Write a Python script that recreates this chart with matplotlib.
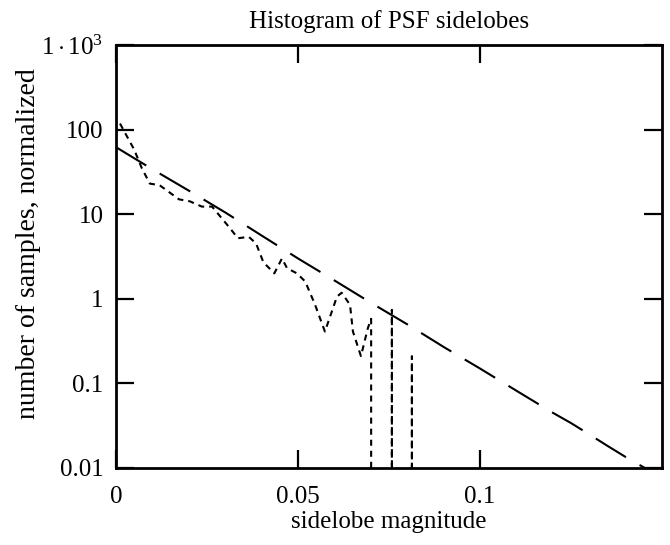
import matplotlib
matplotlib.use("Agg")
import matplotlib.pyplot as plt

plt.rcParams["font.family"] = ["Liberation Serif", "DejaVu Serif"]
plt.rcParams["mathtext.fontset"] = "custom"
plt.rcParams["mathtext.rm"] = "Liberation Serif"
plt.rcParams["mathtext.it"] = "Liberation Serif:italic"

# fitted curve (long dashes)
fit_x = [0.0, 0.01, 0.02, 0.03, 0.04, 0.05, 0.06, 0.07, 0.08, 0.09,
         0.10, 0.11, 0.12, 0.125, 0.13, 0.135, 0.14, 0.1453]
fit_y = [62, 34, 19, 10.5, 5.6, 3.0, 1.65, 0.90, 0.50, 0.27,
         0.15, 0.082, 0.045, 0.034, 0.025, 0.0183, 0.0135, 0.01]

# measured histogram (short dashes), 0 = empty bin
hist_x = [0.0011, 0.005, 0.0071, 0.0093, 0.012, 0.0173, 0.0203, 0.0236,
          0.0264, 0.031, 0.0335, 0.0365, 0.0385, 0.0405, 0.0435, 0.0456,
          0.047, 0.0497, 0.052, 0.0547, 0.0574, 0.0596, 0.0607, 0.062,
          0.0643, 0.0651, 0.0673, 0.0692, 0.0701, 0.0708, 0.0738, 0.0758,
          0.0775, 0.0805, 0.0813, 0.0827]
hist_y = [118, 58, 35, 23, 22, 15, 14.2, 12.3,
          12.3, 7.1, 5.2, 5.4, 4.5, 2.7, 2.0, 3.0,
          2.3, 2.0, 1.6, 0.85, 0.41, 0.77, 1.06, 1.18,
          0.85, 0.41, 0.21, 0.45, 0.58, 0, 0, 0.74,
          0, 0, 0.21, 0]

x_ticks = [0, 0.05, 0.1]
x_labels = ["0", "0.05", "0.1"]
y_ticks = [0.01, 0.1, 1, 10, 100, 1000]
y_labels = ["0.01", "0.1", "1", "10", "100", r"$1\cdot10^{3}$"]

fig = plt.figure(figsize=(6.7, 5.45), dpi=100)
ax = fig.add_axes([0.1731, 0.1413, 0.8149, 0.7761])

ax.plot(fit_x, fit_y, color="black", lw=1.5, dashes=(17, 7.5))
ax.plot(hist_x, hist_y, color="black", lw=1.5, dashes=(2.9, 2.4))

ax.set_yscale("log", nonpositive="clip")
ax.set_xlim(0, 0.15)
ax.set_ylim(0.01, 1000)
ax.set_xticks(x_ticks, x_labels)
ax.set_yticks(y_ticks, y_labels)
ax.minorticks_off()

for s in ax.spines.values():
    s.set_linewidth(2)
ax.tick_params(direction="in", length=13, width=1.6, top=True, right=True,
               labelsize=18)
ax.tick_params(axis="y", pad=9)
ax.tick_params(axis="x", pad=13)

ax.set_title("Histogram of PSF sidelobes", fontsize=18, pad=12)
ax.set_xlabel("sidelobe magnitude", fontsize=18, labelpad=2)
ax.set_ylabel("number of samples, normalized", fontsize=20)
ax.yaxis.set_label_coords(-0.138, 0.53)

fig.savefig("out.png", dpi=100)
